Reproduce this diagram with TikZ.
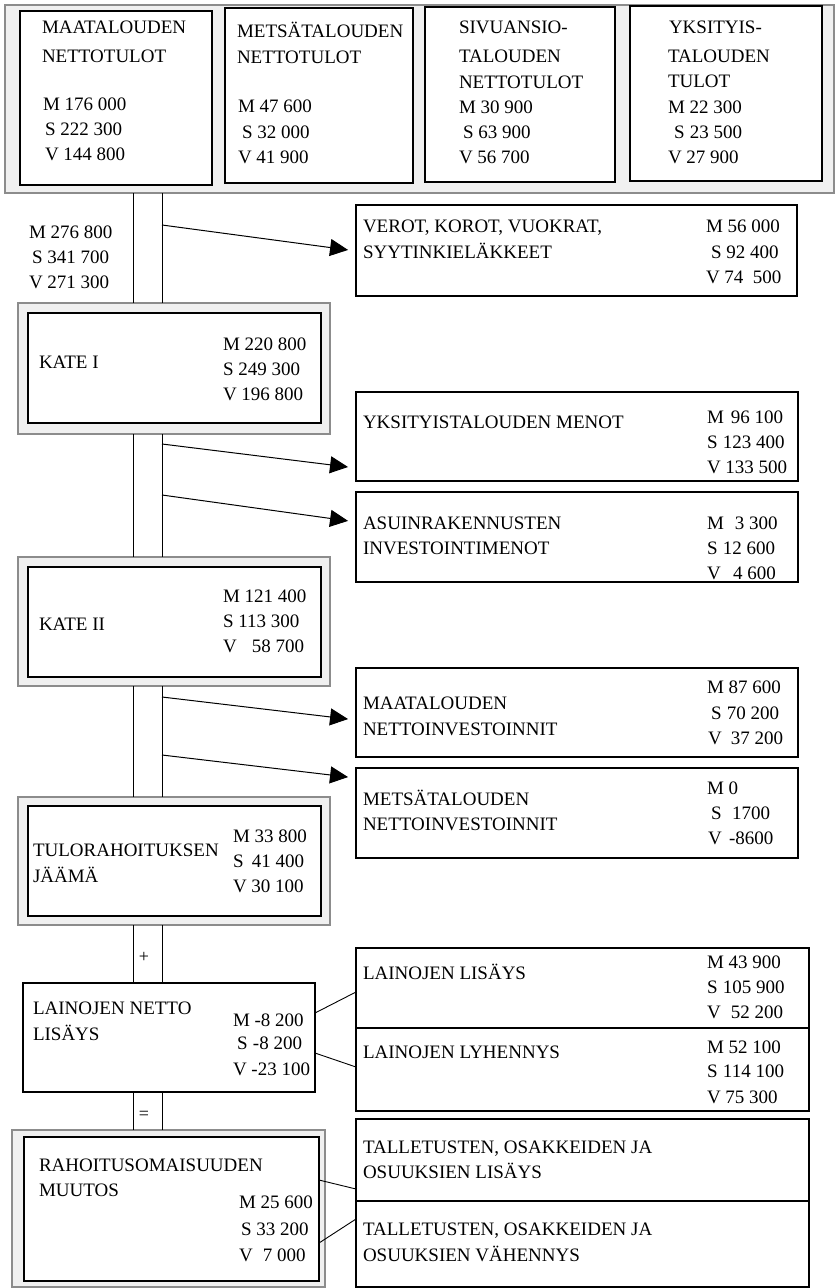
\documentclass[tikz,border=0pt]{standalone}
\usepackage{fontspec}
\setmainfont{Liberation Serif}
\usetikzlibrary{arrows.meta}
\newcommand\mybox[6]{\node[#1, minimum width={(#5-#3)*1pt}, minimum height={(#6-#4)*1pt}] (#2) at (#3,#4) {};}
\newcommand\mytxt[4]{\node[txt] (#1) at (#2,#3) {#4};}
\newcommand\mynum[6]{\node[txt] (#1) at (#2,#3) {\setbox0=\hbox{#4\ }\relax\ifdim\wd0<\dimexpr #5pt-#2pt\relax\makebox[\dimexpr #5pt-#2pt\relax][l]{#4}\else\box0\relax\fi #6};}
\tikzset{
  boxst/.style={draw=black, line width=1.1pt, fill=white, inner sep=0pt, outer sep=0pt, anchor=north west},
  shadest/.style={draw=black!45, line width=1.3pt, fill=black!6, inner sep=0pt, outer sep=0pt, anchor=north west},
  txt/.style={anchor=base west, inner sep=0pt, outer sep=0pt, font=\fontsize{19}{22}\selectfont},
  sym/.style={inner sep=0pt, font=\fontsize{18}{20}\selectfont},
  pipe/.style={line width=1pt},
  arr/.style={line width=1pt, -{Triangle[length=18pt,width=17pt]}, shorten >=8pt},
  link/.style={line width=0.9pt}
}
\begin{document}
\begin{tikzpicture}[x=1pt,y=-1pt]
\useasboundingbox (0,0) rectangle (836,1288);
\fill[white] (0,0) rectangle (836,1288);
\coordinate (pL) at (133,0);
\coordinate (pR) at (162,0);
% top frame with four boxes
\mybox{shadest}{topf}{5}{5}{834}{193}
\mybox{boxst}{b1}{20}{11}{212}{185}
\mybox{boxst}{b2}{225}{8}{413}{183}
\mybox{boxst}{b3}{425}{7}{615}{182}
\mybox{boxst}{b4}{630}{6}{822}{181}
\mytxt{t1a}{42}{33}{MAATALOUDEN}
\mytxt{t1b}{42}{62}{NETTOTULOT}
\mynum{n1m}{43}{110}{M}{59}{176 000}
\mynum{n1s}{45}{135}{S}{59}{222 300}
\mynum{n1v}{45}{160}{V}{59}{144 800}
\mytxt{t2a}{237}{37}{METSÄTALOUDEN}
\mytxt{t2b}{237}{63}{NETTOTULOT}
\mynum{n2m}{238}{112}{M}{253}{47 600}
\mynum{n2s}{242}{138}{S}{253}{32 000}
\mynum{n2v}{238}{163}{V}{253}{41 900}
\mytxt{t3a}{459}{33}{SIVUANSIO-}
\mytxt{t3b}{459}{62}{TALOUDEN}
\mytxt{t3c}{459}{88}{NETTOTULOT}
\mynum{n3m}{459}{113}{M}{475}{30 900}
\mynum{n3s}{463}{138}{S}{475}{63 900}
\mynum{n3v}{459}{163}{V}{475}{56 700}
\mytxt{t4a}{669}{33}{YKSITYIS-}
\mytxt{t4b}{668}{62}{TALOUDEN}
\mytxt{t4c}{668}{87}{TULOT}
\mynum{n4m}{668}{113}{M}{685}{22 300}
\mynum{n4s}{674}{138}{S}{690}{23 500}
\mynum{n4v}{668}{163}{V}{685}{27 900}
% left labels
\mynum{l1m}{29}{238}{M}{45}{276 800}
\mynum{l1s}{32}{263}{S}{43}{341 700}
\mynum{l1v}{29}{288}{V}{43}{271 300}
% KATE I
\mybox{shadest}{k1o}{18}{303}{330}{434}
\mybox{boxst}{k1i}{28}{313}{321}{423}
\mytxt{tk1}{39}{368}{KATE I}
\mynum{k1m}{223}{350}{M}{238}{220 800}
\mynum{k1s}{223}{375}{S}{238}{249 300}
\mynum{k1v}{223}{400}{V}{238}{196 800}
% KATE II
\mybox{shadest}{k2o}{18}{557}{330}{686}
\mybox{boxst}{k2i}{28}{567}{321}{677}
\mytxt{tk2}{39}{630}{KATE II}
\mynum{k2m}{223}{602}{M}{238}{121 400}
\mynum{k2s}{223}{627}{S}{238}{113 300}
\mynum{k2v}{223}{652}{V}{252}{58 700}
% TULORAHOITUKSEN JAAMA
\mybox{shadest}{tuo}{18}{797}{330}{925}
\mybox{boxst}{tui}{28}{806}{321}{916}
\mytxt{tt1}{33}{856}{TULORAHOITUKSEN}
\mytxt{tt2}{33}{882}{JÄÄMÄ}
\mynum{tum}{233}{842}{M}{250}{33 800}
\mynum{tus}{233}{867}{S}{252}{41 400}
\mynum{tuv}{233}{892}{V}{250}{30 100}
% LAINOJEN NETTO LISAYS
\mybox{boxst}{lnet}{23}{983}{315}{1092}
\mytxt{tl1}{33}{1014}{LAINOJEN NETTO}
\mytxt{tl2}{33}{1040}{LISÄYS}
\mynum{lnm}{233}{1026}{M}{253}{-8 200}
\mynum{lns}{237}{1049}{S}{253}{-8 200}
\mynum{lnv}{233}{1075}{V}{248}{-23 100}
% RAHOITUSOMAISUUDEN MUUTOS
\mybox{shadest}{rao}{12}{1130}{325}{1287}
\mybox{boxst}{rai}{24}{1137}{319}{1281}
\mytxt{tr1}{39}{1171}{RAHOITUSOMAISUUDEN}
\mytxt{tr2}{39}{1196}{MUUTOS}
\mynum{ram}{239}{1208}{M}{255}{25 600}
\mynum{ras}{241}{1235}{S}{254}{33 200}
\mynum{rav}{239}{1261}{V}{263}{7 000}
% right boxes
\mybox{boxst}{verot}{356}{205}{797}{296}
\mytxt{tv1}{363}{232}{VEROT, KOROT, VUOKRAT,}
\mytxt{tv2}{363}{258}{SYYTINKIELÄKKEET}
\mynum{vm}{706}{232}{M}{722}{56 000}
\mynum{vs}{711}{258}{S}{720}{92 400}
\mynum{vv}{706}{283}{V}{722}{74\ \ 500}
\mybox{boxst}{yks}{356}{392}{798}{481}
\mytxt{ty1}{363}{428}{YKSITYISTALOUDEN MENOT}
\mynum{ym}{707}{423}{M}{731}{96 100}
\mynum{ys}{707}{448}{S}{723}{123 400}
\mynum{yv}{707}{473}{V}{723}{133 500}
\mybox{boxst}{asu}{356}{492}{798}{582}
\mytxt{ta1}{363}{529}{ASUINRAKENNUSTEN}
\mytxt{ta2}{363}{554}{INVESTOINTIMENOT}
\mynum{am}{707}{529}{M}{735}{3 300}
\mynum{as}{707}{554}{S}{723}{12 600}
\mynum{av}{707}{579}{V}{733}{4 600}
\mybox{boxst}{maat}{356}{668}{798}{757}
\mytxt{tm1}{363}{709}{MAATALOUDEN}
\mytxt{tm2}{363}{735}{NETTOINVESTOINNIT}
\mynum{mm}{707}{693}{M}{723}{87 600}
\mynum{ms}{711}{719}{S}{727}{70 200}
\mynum{mv}{708}{744}{V}{731}{37 200}
\mybox{boxst}{mets}{356}{768}{798}{858}
\mytxt{te1}{363}{805}{METSÄTALOUDEN}
\mytxt{te2}{363}{830}{NETTOINVESTOINNIT}
\mynum{em}{707}{794}{M}{727}{0}
\mynum{es}{711}{819}{S}{732}{1700}
\mynum{ev}{708}{844}{V}{729}{-8600}
\mybox{boxst}{lis}{356}{948}{809}{1028}
\mytxt{ti1}{363}{979}{LAINOJEN LISÄYS}
\mynum{im}{707}{968}{M}{723}{43 900}
\mynum{is}{707}{993}{S}{723}{105 900}
\mynum{iv}{707}{1018}{V}{731}{52 200}
\mybox{boxst}{lyh}{356}{1028}{809}{1111}
\mytxt{th1}{363}{1058}{LAINOJEN LYHENNYS}
\mynum{hm}{707}{1053}{M}{723}{52 100}
\mynum{hs}{707}{1077}{S}{723}{114 100}
\mynum{hv}{707}{1103}{V}{723}{75 300}
\mybox{boxst}{tal1}{356}{1119}{809}{1201}
\mytxt{tb1}{363}{1153}{TALLETUSTEN, OSAKKEIDEN JA}
\mytxt{tb2}{363}{1178}{OSUUKSIEN LISÄYS}
\mybox{boxst}{tal2}{356}{1201}{809}{1287}
\mytxt{tc1}{363}{1235}{TALLETUSTEN, OSAKKEIDEN JA}
\mytxt{tc2}{363}{1261}{OSUUKSIEN VÄHENNYS}
% pipe
\foreach \p in {pL,pR}{
  \draw[pipe] (topf.south -| \p) -- (k1o.north -| \p);
  \draw[pipe] (k1o.south -| \p) -- (k2o.north -| \p);
  \draw[pipe] (k2o.south -| \p) -- (tuo.north -| \p);
  \draw[pipe] (tuo.south -| \p) -- (lnet.north -| \p);
  \draw[pipe] (lnet.south -| \p) -- (rao.north -| \p);
}
\node[sym] (plus) at (144,957) {+};
\node[sym] (eq) at (144,1115) {=};
% arrows
\coordinate (a1) at (162,225);
\coordinate (a2) at (162,444);
\coordinate (a3) at (162,495);
\coordinate (a4) at (162,697);
\coordinate (a5) at (162,755);
\draw[arr] (a1) -- (verot.west |- 0,251);
\draw[arr] (a2) -- (yks.west |- 0,468);
\draw[arr] (a3) -- (asu.west |- 0,522);
\draw[arr] (a4) -- (maat.west |- 0,720);
\draw[arr] (a5) -- (mets.west |- 0,778);
% links
\draw[link] (lnet.east |- 0,1013) -- (lis.west |- 0,992);
\draw[link] (lnet.east |- 0,1053) -- (lyh.west |- 0,1067);
\draw[link] (rai.east |- 0,1180) -- (tal1.west |- 0,1189);
\draw[link] (rai.east |- 0,1243) -- (tal2.west |- 0,1219);
\end{tikzpicture}
\end{document}
